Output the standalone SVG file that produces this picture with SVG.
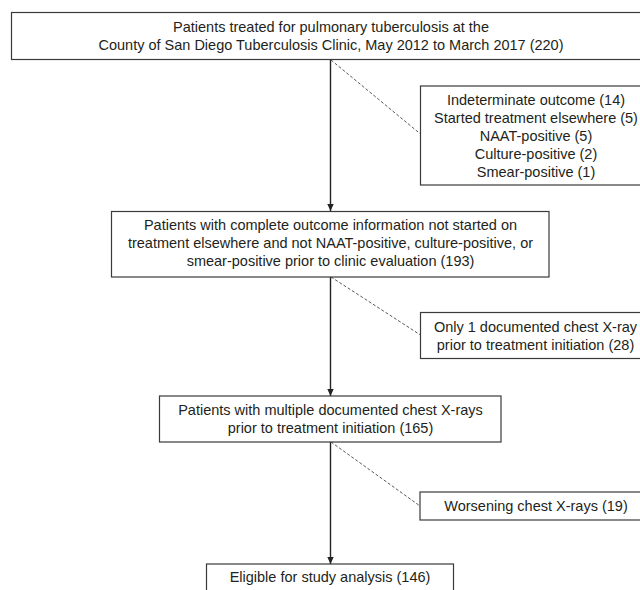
<svg xmlns="http://www.w3.org/2000/svg" width="640" height="590" viewBox="0 0 640 590">
<defs>
<style>
.box{fill:#fff;stroke:#3a3a3a;stroke-width:1.2}
.t{font-family:"Liberation Sans",Arial,sans-serif;font-size:14.5px;fill:#231f20;text-anchor:middle}
.arr{fill:none;stroke:#222;stroke-width:1.4}
.dash{fill:none;stroke:#444;stroke-width:0.9;stroke-dasharray:3 2}
</style>
<marker id="ah" markerWidth="7" markerHeight="7" refX="7" refY="3.5" orient="auto" markerUnits="userSpaceOnUse">
<path d="M0,0.3 L7,3.5 L0,6.7 Z" fill="#222"/>
</marker>
</defs>
<rect width="640" height="590" fill="#fff"/>
<g id="connectors">
<line class="arr" x1="330.5" y1="59.5" x2="330.5" y2="211" marker-end="url(#ah)"/>
<line class="arr" x1="330.5" y1="277" x2="330.5" y2="396" marker-end="url(#ah)"/>
<line class="arr" x1="330.5" y1="442" x2="330.5" y2="564" marker-end="url(#ah)"/>
<line class="dash" x1="331" y1="60" x2="420.5" y2="134"/>
<line class="dash" x1="331" y1="277" x2="420.5" y2="335"/>
<line class="dash" x1="331" y1="442" x2="420" y2="506"/>
</g>
<g id="n1">
<rect class="box" x="11.5" y="12.5" width="640" height="47"/>
<text class="t" x="331" y="32">Patients treated for pulmonary tuberculosis at the</text>
<text class="t" x="331" y="50">County of San Diego Tuberculosis Clinic, May 2012 to March 2017 (220)</text>
</g>
<g id="n2">
<rect class="box" x="420.5" y="86" width="232" height="99"/>
<text class="t" x="536" y="104.5">Indeterminate outcome (14)</text>
<text class="t" x="536" y="122.5">Started treatment elsewhere (5)</text>
<text class="t" x="536" y="140.5">NAAT-positive (5)</text>
<text class="t" x="536" y="158.5">Culture-positive (2)</text>
<text class="t" x="536" y="176.5">Smear-positive (1)</text>
</g>
<g id="n3">
<rect class="box" x="111.5" y="211.5" width="437.5" height="65.5"/>
<text class="t" x="330.5" y="230">Patients with complete outcome information not started on</text>
<text class="t" x="330.5" y="248">treatment elsewhere and not NAAT-positive, culture-positive, or</text>
<text class="t" x="330.5" y="266">smear-positive prior to clinic evaluation (193)</text>
</g>
<g id="n4">
<rect class="box" x="420.5" y="312.5" width="232" height="46"/>
<text class="t" x="535.5" y="331.5">Only 1 documented chest X-ray</text>
<text class="t" x="535.5" y="349.5">prior to treatment initiation (28)</text>
</g>
<g id="n5">
<rect class="box" x="159.5" y="396" width="341.5" height="46"/>
<text class="t" x="330.5" y="415">Patients with multiple documented chest X-rays</text>
<text class="t" x="330.5" y="432.5">prior to treatment initiation (165)</text>
</g>
<g id="n6">
<rect class="box" x="420" y="492" width="232" height="28"/>
<text class="t" x="536" y="511">Worsening chest X-rays (19)</text>
</g>
<g id="n7">
<rect class="box" x="206.5" y="564" width="247" height="40"/>
<text class="t" x="330" y="582">Eligible for study analysis (146)</text>
</g>
</svg>
